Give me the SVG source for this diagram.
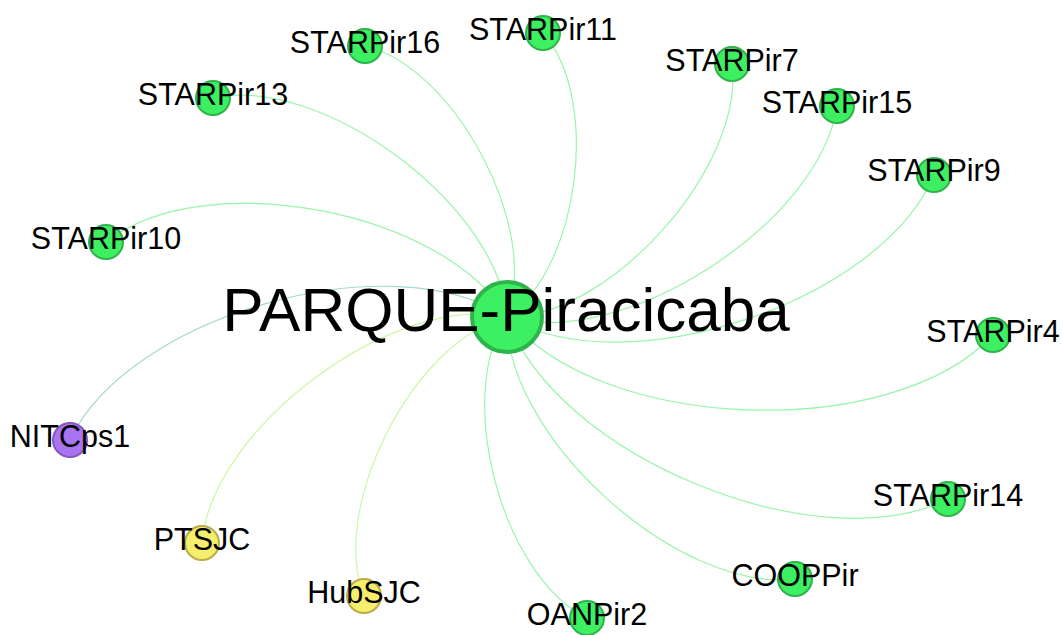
<svg xmlns="http://www.w3.org/2000/svg" width="1063" height="635" viewBox="0 0 1063 635">
  <style>
    .edge { fill: none; stroke-width: 1.2; }
    .eg { stroke: #98f5aa; }
    .ep { stroke: #a6d8d2; }
    .ey { stroke: #cdf6a4; }
    .ng { fill: #3cf062; stroke: #2fb34c; stroke-width: 2; }
    .np { fill: #a874f0; stroke: #8657c0; stroke-width: 2; }
    .ny { fill: #f6ee6c; stroke: #b8ad4a; stroke-width: 2; }
    .hub { fill: #3cf062; stroke: #2fb34c; stroke-width: 4; }
    text { font-family: "Liberation Sans", Arial, Helvetica, sans-serif; fill: #000; text-anchor: middle; }
    .lbl { font-size: 30.5px; }
    .big { font-size: 62px; }
  </style>

  <!-- curved links from each partner to the hub -->
  <g id="edges">
    <path class="edge eg" d="M365,46 C455.7,67.5 540.9,230.1 507,317"/>
    <path class="edge eg" d="M543,33 C601.1,98.1 579.5,268.5 507,317"/>
    <path class="edge eg" d="M732,64 C745.2,166.4 610.2,318.2 507,317"/>
    <path class="edge eg" d="M837,106 C819.5,224.1 621.5,350.7 507,317"/>
    <path class="edge eg" d="M934,175 C881.3,301.6 625.1,386.8 507,317"/>
    <path class="edge eg" d="M993,335 C891.7,443.2 600.1,432.4 507,317"/>
    <path class="edge eg" d="M948,499 C817.9,564 553.3,454.8 507,317"/>
    <path class="edge eg" d="M795,579 C677.1,592.8 504.3,435.6 507,317"/>
    <path class="edge eg" d="M587,618 C501.8,576.2 453.8,395.6 507,317"/>
    <path class="edge ey" d="M364,596 C328.4,507.3 414.2,339.9 507,317"/>
    <path class="edge ey" d="M202,543 C211,427.7 394,292.1 507,317"/>
    <path class="edge ep" d="M70,440 C129.1,314.9 391.3,241.1 507,317"/>
    <path class="edge eg" d="M106,242 C203.5,164.8 444.1,209.8 507,317"/>
    <path class="edge eg" d="M213,98 C322.2,74.2 498.6,205.6 507,317"/>
  </g>

  <!-- nodes -->
  <g id="node-parque"><circle class="hub" cx="507" cy="317" r="35"/></g>
  <g id="node-starpir16"><circle class="ng" cx="365" cy="46" r="17"/></g>
  <g id="node-starpir11"><circle class="ng" cx="543" cy="33" r="17"/></g>
  <g id="node-starpir7"><circle class="ng" cx="732" cy="64" r="17"/></g>
  <g id="node-starpir15"><circle class="ng" cx="837" cy="106" r="17"/></g>
  <g id="node-starpir9"><circle class="ng" cx="934" cy="175" r="17"/></g>
  <g id="node-starpir4"><circle class="ng" cx="993" cy="335" r="17"/></g>
  <g id="node-starpir14"><circle class="ng" cx="948" cy="499" r="17"/></g>
  <g id="node-cooppir"><circle class="ng" cx="795" cy="579" r="17"/></g>
  <g id="node-oanpir2"><circle class="ng" cx="587" cy="618" r="17"/></g>
  <g id="node-hubsjc"><circle class="ny" cx="364" cy="596" r="17"/></g>
  <g id="node-ptsjc"><circle class="ny" cx="202" cy="543" r="17"/></g>
  <g id="node-nitcps1"><circle class="np" cx="70" cy="440" r="17"/></g>
  <g id="node-starpir10"><circle class="ng" cx="106" cy="242" r="17"/></g>
  <g id="node-starpir13"><circle class="ng" cx="213" cy="98" r="17"/></g>

  <!-- labels -->
  <g id="labels">
    <text class="big" x="506" y="331">PARQUE-Piracicaba</text>
    <text class="lbl" x="365" y="53">STARPir16</text>
    <text class="lbl" x="543" y="40">STARPir11</text>
    <text class="lbl" x="732" y="71">STARPir7</text>
    <text class="lbl" x="837" y="113">STARPir15</text>
    <text class="lbl" x="934" y="181">STARPir9</text>
    <text class="lbl" x="993" y="342">STARPir4</text>
    <text class="lbl" x="948" y="506">STARPir14</text>
    <text class="lbl" x="795" y="586">COOPPir</text>
    <text class="lbl" x="587" y="625">OANPir2</text>
    <text class="lbl" x="364" y="603">HubSJC</text>
    <text class="lbl" x="202" y="550">PTSJC</text>
    <text class="lbl" x="70" y="447">NITCps1</text>
    <text class="lbl" x="106" y="249">STARPir10</text>
    <text class="lbl" x="213" y="105">STARPir13</text>
  </g>
</svg>
